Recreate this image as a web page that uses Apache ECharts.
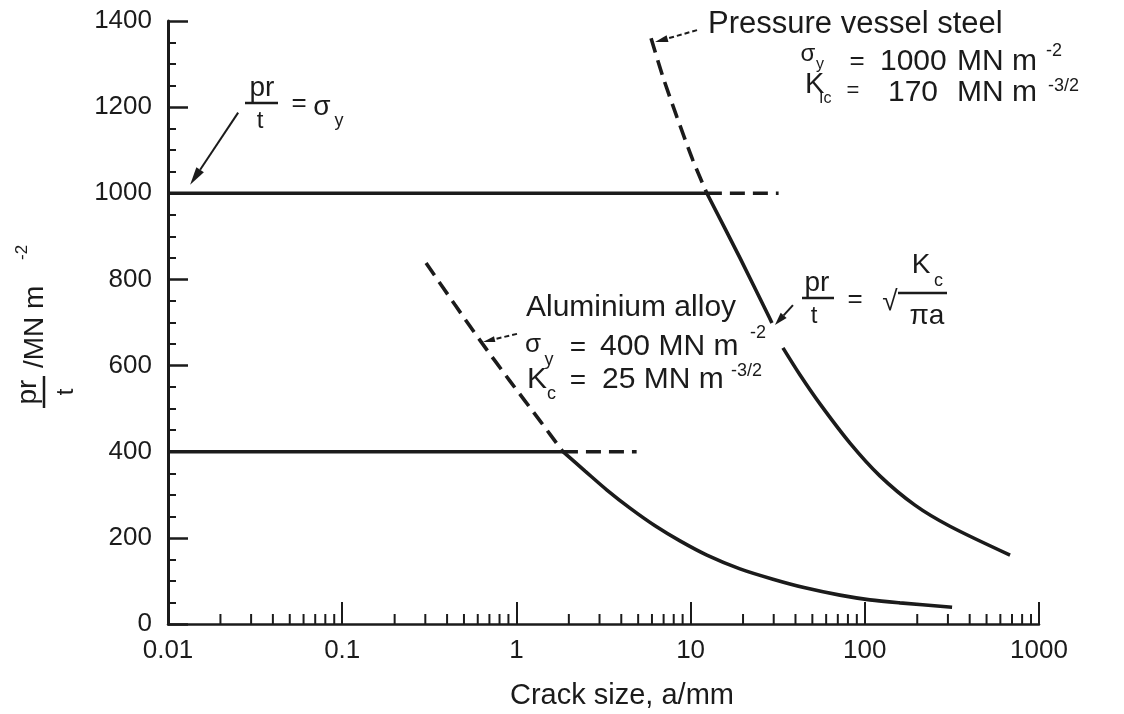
<!DOCTYPE html>
<html>
<head>
<meta charset="utf-8">
<title>Pressure vessel failure: pr/t against crack size</title>
<script src="https://cdn.jsdelivr.net/npm/echarts@6/dist/echarts.min.js"></script>
<style>
html, body { margin: 0; padding: 0; background: #fff; }
#chart { width: 1124px; height: 714px; }
</style>
</head>
<body>
<div id="chart"></div>
<script>
// ---- values (crack size a in mm, pr/t in MN m^-2) ----
const xRange = [0.01, 1000];
const yRange = [0, 1400];
const yStep = 200;
const xMinorTicks = [
  0.02, 0.03, 0.04, 0.05, 0.06, 0.07, 0.08, 0.09,
  0.2, 0.3, 0.4, 0.5, 0.6, 0.7, 0.8, 0.9,
  2, 3, 4, 5, 6, 7, 8, 9,
  20, 30, 40, 50, 60, 70, 80, 90,
  200, 300, 400, 500, 600, 700, 800, 900
];

// yield lines: value, solid up to the crossing, dashed beyond
const steelYield = 1000;
const steelYieldSpan = [0.01, 12.4, 32];
const alYield = 400;
const alYieldSpan = [0.01, 1.85, 4.9];

// fast-fracture curves pr/t = K/sqrt(pi a)
const steelCurveDashed = [[5.93, 1360], [6.94, 1270], [8.35, 1177], [10.3, 1077], [12.4, 1000]];
const steelCurveSolidA = [[12.4, 1000], [19.2, 850], [27.5, 722], [29.3, 699]];
const steelCurveSolidB = [[33.9, 641], [42.5, 578], [55.3, 511], [82.2, 420], [122, 344],
                          [194, 276], [308, 227], [682, 160]];
const alCurveDashed = [[0.303, 838], [0.444, 741], [0.635, 652], [0.919, 564], [1.37, 471], [1.85, 400]];
const alCurveSolid = [[1.85, 400], [2.48, 355], [3.31, 311], [4.49, 269], [6.25, 228], [8.69, 193],
                      [12.4, 160], [19.2, 128], [29.7, 104], [45.4, 84], [72, 67], [107, 56],
                      [159, 49], [317, 39]];

// ---- styling ----
const INK = '#1b1b1b';
const FONT = "'Liberation Sans', Arial, Helvetica, sans-serif";

function curve(data, dashed, smooth) {
  return {
    type: 'line', data: data, symbol: 'none', showSymbol: false,
    smooth: smooth === undefined ? 0.3 : smooth,
    silent: true, animation: false, z: 3,
    lineStyle: { color: INK, width: 3.6, type: dashed ? [15, 8] : 'solid', cap: 'butt' }
  };
}

const series = [
  curve([[steelYieldSpan[0], steelYield], [steelYieldSpan[1], steelYield]], false, false),
  curve([[steelYieldSpan[1], steelYield], [steelYieldSpan[2], steelYield]], true, false),
  curve([[alYieldSpan[0], alYield], [alYieldSpan[1], alYield]], false, false),
  curve([[alYieldSpan[1], alYield], [alYieldSpan[2], alYield]], true, false),
  curve(steelCurveDashed, true),
  curve(steelCurveSolidA, false),
  curve(steelCurveSolidB, false),
  curve(alCurveDashed, true),
  curve(alCurveSolid, false),
  {
    // minor decade ticks along the log axis
    type: 'custom', silent: true, animation: false, z: 4, clip: false,
    data: xMinorTicks.map(function (v) { return [v, yRange[0]]; }),
    renderItem: function (params, api) {
      const p = api.coord([api.value(0), api.value(1)]);
      return { type: 'line', shape: { x1: p[0], y1: p[1], x2: p[0], y2: p[1] - 10 },
               style: { stroke: INK, lineWidth: 2 } };
    }
  }
];

const plainNumber = function (v) { return String(v); };

const option = {
  backgroundColor: '#ffffff',
  animation: false,
  grid: { left: 168, right: 85, top: 21, bottom: 90, outerBoundsMode: 'none' },
  xAxis: {
    type: 'log', logBase: 10, min: xRange[0], max: xRange[1],
    axisLine: { show: true, lineStyle: { color: INK, width: 2.5 } },
    axisTick: { show: true, inside: true, length: 22, lineStyle: { color: INK, width: 2 } },
    minorTick: { show: false },
    splitLine: { show: false },
    axisLabel: { color: INK, fontSize: 26, fontFamily: FONT, margin: 14,
                 showMinLabel: true, showMaxLabel: true, formatter: plainNumber }
  },
  yAxis: {
    type: 'value', min: yRange[0], max: yRange[1], interval: yStep,
    axisLine: { show: true, lineStyle: { color: INK, width: 3 } },
    axisTick: { show: true, inside: true, length: 20, lineStyle: { color: INK, width: 2.5 } },
    minorTick: { show: true, splitNumber: 4, length: 8, lineStyle: { color: INK, width: 2 } },
    splitLine: { show: false },
    axisLabel: { color: INK, fontSize: 26, fontFamily: FONT, margin: 16, formatter: plainNumber }
  },
  series: series
};

const chart = echarts.init(document.getElementById('chart'), null, { renderer: 'canvas' });
chart.setOption(option);

// ---- annotations ----
function txt(text, x, y, size, align) {
  return { type: 'text', x: x, y: y, z: 10, silent: true,
           style: { text: text, fill: INK, fontSize: size, fontFamily: FONT,
                    align: align || 'left', verticalAlign: 'middle' } };
}
function rule(x1, y1, x2, y2, w) {
  return { type: 'line', z: 10, silent: true, shape: { x1: x1, y1: y1, x2: x2, y2: y2 },
           style: { stroke: INK, lineWidth: w || 2 } };
}
function arrow(tipData, tailOffset, headLen, headW, dashed) {
  const tip = chart.convertToPixel({ gridIndex: 0 }, tipData);
  const tail = [tip[0] + tailOffset[0], tip[1] + tailOffset[1]];
  const dx = tip[0] - tail[0], dy = tip[1] - tail[1];
  const len = Math.hypot(dx, dy), ux = dx / len, uy = dy / len;
  const bx = tip[0] - ux * headLen, by = tip[1] - uy * headLen;
  const px = -uy * headW / 2, py = ux * headW / 2;
  return [
    { type: 'line', z: 10, silent: true,
      shape: { x1: tail[0], y1: tail[1], x2: bx, y2: by },
      style: { stroke: INK, lineWidth: 2, lineDash: dashed ? [5, 3] : null } },
    { type: 'polygon', z: 10, silent: true,
      shape: { points: [[tip[0], tip[1]], [bx + px, by + py], [bx - px, by - py]] },
      style: { fill: INK } }
  ];
}

const elements = [
  // pr/t = sigma_y
  txt('pr', 262, 88, 28, 'center'), rule(245, 103, 278, 103, 2.5),
  txt('t', 260, 121, 24, 'center'), txt('=', 299, 104, 26, 'center'),
  txt('σ', 322, 107, 28, 'center'), txt('y', 339, 121, 18, 'center'),

  // pressure vessel steel
  txt('Pressure vessel steel', 708, 24, 31),
  txt('σ', 808, 54, 24, 'center'), txt('y', 820, 65, 16, 'center'),
  txt('=', 857, 62, 26, 'center'), txt('1000', 880, 62, 30), txt('MN m', 957, 62, 30),
  txt('-2', 1046, 51, 18),
  txt('K', 805, 85, 29), txt('Ic', 819, 99, 16),
  txt('=', 853, 91, 22, 'center'), txt('170', 888, 93, 30), txt('MN m', 957, 93, 30),
  txt('-3/2', 1048, 86, 18),

  // aluminium alloy
  txt('Aluminium alloy', 526, 308, 30),
  txt('σ', 533, 345, 26, 'center'), txt('y', 549, 360, 18, 'center'),
  txt('=', 578, 348, 28, 'center'), txt('400 MN m', 600, 347, 30),
  txt('-2', 750, 333, 18),
  txt('K', 527, 380, 30), txt('c', 547, 394, 18),
  txt('=', 578, 381, 28, 'center'), txt('25 MN m', 602, 380, 30),
  txt('-3/2', 731, 371, 18),

  // pr/t = sqrt(Kc / pi a)
  txt('pr', 817, 283, 28, 'center'), rule(802, 298, 834, 298, 2.5),
  txt('t', 814, 316, 24, 'center'), txt('=', 855, 300, 26, 'center'),
  txt('√', 890, 302, 28, 'center'), rule(898, 293, 947, 293, 2.5),
  txt('K', 921, 265, 28, 'center'), txt('c', 934, 281, 18),
  txt('πa', 927, 316, 28, 'center'),

  // axis titles
  txt('Crack size, a/mm', 510, 696, 29),
  {
    type: 'group', x: 44, y: 410, rotation: Math.PI / 2, silent: true,
    children: [
      txt('pr', 18, -16, 28, 'center'),
      rule(2, 0, 34, 0, 2.5),
      txt('t', 18, 22, 24, 'center'),
      txt('/MN m', 42, -9, 28),
      txt('-2', 150, -22, 17)
    ]
  }
]
  .concat(arrow([0.0134, 1020], [48, -72], 18, 9, false))
  .concat(arrow([6.25, 1351], [42, -12], 13, 7, true))
  .concat(arrow([0.643, 655], [34, -8], 12, 6, true))
  .concat(arrow([30.5, 694], [18, -20], 13, 8, false));

chart.setOption({ graphic: { elements: elements } });
</script>
</body>
</html>
